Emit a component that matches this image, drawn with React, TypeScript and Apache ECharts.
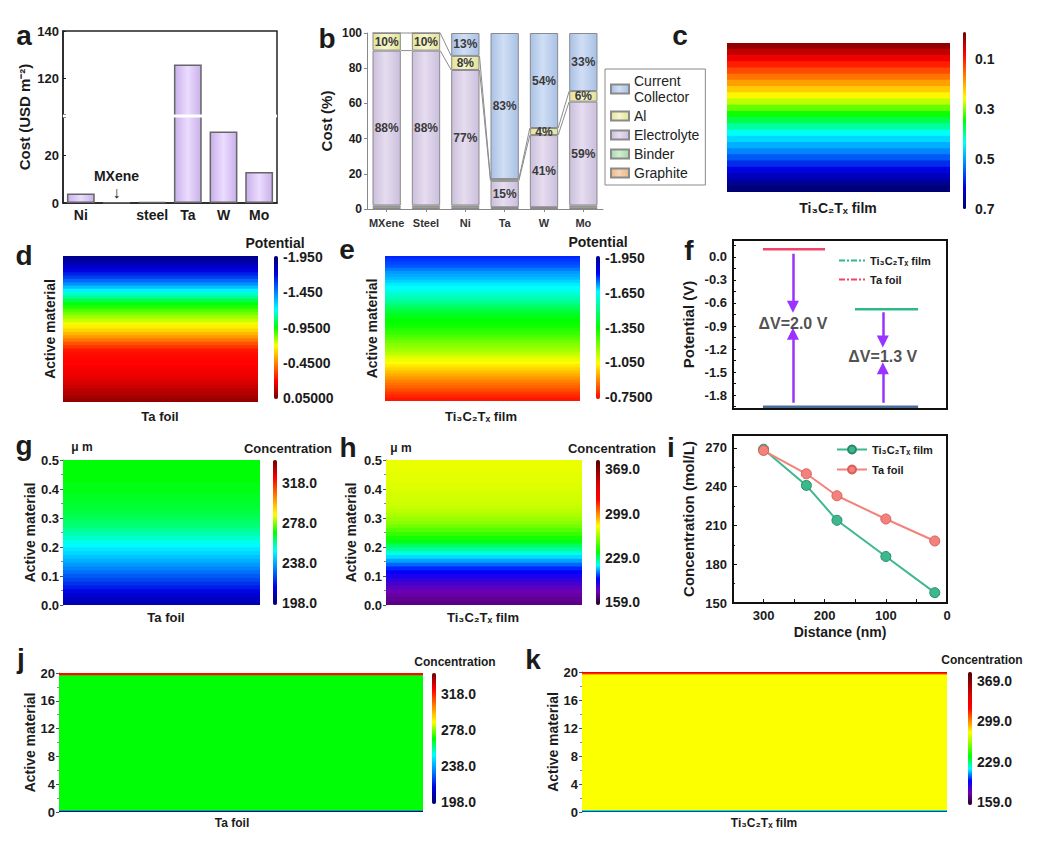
import React, { useEffect, useRef } from 'react';
import * as echarts from 'echarts';

const FONT = '"Liberation Sans", Arial, Helvetica, sans-serif';
const INK = '#1b1b1b';

// ---------------- a : current collector cost ----------------
const aCategories = ['Ni', 'MXene', 'steel', 'Ta', 'W', 'Mo'];
const aCost = [4, 0.3, 0.5, 126, 30, 13];
const aTickLabels = [0, 20, 120, 140];
const aBreak = [36, 105];

// ---------------- b : cost breakdown ----------------
const bCategories = ['MXene', 'Steel', 'Ni', 'Ta', 'W', 'Mo'];
const bGraphite = [1, 1, 1, 0.5, 0.5, 1];
const bBinder = [1, 1, 1, 0.5, 0.5, 1];
const bElectrolyte = [88, 88, 77, 15, 41, 59];
const bAl = [10, 10, 8, 1, 4, 6];
const bCollector = [0, 0, 13, 83, 54, 33];
const bLegendOrder = ['Current Collector', 'Al', 'Electrolyte', 'Binder', 'Graphite'];

// ---------------- c : Ti3C2Tx film map (top -> bottom) ----------------
const cValues = [0.012, 0.04, 0.07, 0.1, 0.13, 0.16, 0.19, 0.22, 0.25, 0.28, 0.31, 0.34,
  0.37, 0.4, 0.43, 0.46, 0.49, 0.52, 0.55, 0.58, 0.61, 0.64, 0.67, 0.695];
const cTicks = [0.1, 0.3, 0.5, 0.7];
const cTickLabels = ['0.1', '0.3', '0.5', '0.7'];

// ---------------- d / e : potential (top -> bottom) ----------------
const dPotential = [-1.9, -1.86, -1.81, -1.76, -1.71, -1.65, -1.59, -1.51, -1.43, -1.33, -1.23, -1.16,
  -1.09, -1.03, -0.97, -0.92, -0.87, -0.83, -0.79, -0.75, -0.71, -0.66, -0.61, -0.55,
  -0.49, -0.42, -0.35, -0.29, -0.23, -0.21, -0.2, -0.19, -0.19, -0.18, -0.17, -0.16,
  -0.15, -0.13, -0.11, -0.09, -0.07, -0.05, -0.03, 0.0];
const dTicks = [-1.95, -1.45, -0.95, -0.45, 0.05];
const dTickLabels = ['-1.950', '-1.450', '-0.9500', '-0.4500', '0.05000'];
const ePotential = [-1.79, -1.78, -1.77, -1.76, -1.74, -1.72, -1.71, -1.7, -1.685, -1.67, -1.655, -1.64,
  -1.61, -1.58, -1.55, -1.52, -1.485, -1.45, -1.42, -1.39, -1.37, -1.35, -1.34, -1.33,
  -1.31, -1.29, -1.265, -1.24, -1.215, -1.19, -1.17, -1.15, -1.12, -1.09, -1.065, -1.04,
  -1.015, -0.99, -0.965, -0.94, -0.915, -0.89, -0.87, -0.85, -0.825, -0.8, -0.78, -0.76];
const eTicks = [-1.95, -1.65, -1.35, -1.05, -0.75];
const eTickLabels = ['-1.950', '-1.650', '-1.350', '-1.050', '-0.7500'];

// ---------------- f : potential levels ----------------
const fLevelNames = ['Ta foil', 'Ti₃C₂Tₓ film', 'base'];
const fLevelPotential = [0.1, -0.68, -1.95];
const fLevelStart = [14, 57, 14];
const fLevelEnd = [43, 86.5, 86.5];
const fArrowX = [28, 70];
const fArrowDown = [[0.04, -0.65], [-0.72, -1.1]];
const fArrowUp = [[-1.9, -1.0], [-1.9, -1.45]];
const fDeltaLabelY = [-0.865, -1.3];
const fDeltaLabels = ['ΔV=2.0 V', 'ΔV=1.3 V'];
const fTicks = [0, -0.3, -0.6, -0.9, -1.2, -1.5, -1.8];
const fMinorTicks = [0.15, 0, -0.15, -0.3, -0.45, -0.6, -0.75, -0.9, -1.05, -1.2, -1.35, -1.5, -1.65, -1.8, -1.95];

// ---------------- g / h : concentration, 0.5 um (top -> bottom) ----------------
const gConc = [268, 268, 268, 268, 268, 268, 267, 267, 267, 266, 266, 265, 265, 264, 263, 262,
  261, 260, 258, 256, 254, 252, 250, 247, 245, 242, 239, 236, 233, 230, 227, 224,
  221, 218, 215, 212, 209, 207];
const gTicks = [198, 238, 278, 318];
const gTickLabels = ['198.0', '238.0', '278.0', '318.0'];
const hConc = [276, 276, 276, 275, 275, 275, 274, 274, 273, 272, 272, 271, 270, 268, 266, 263,
  260, 256, 251, 246, 241, 236, 230, 225, 219, 214, 209, 204, 199, 195, 191, 187,
  183, 179, 176, 173, 171, 169];
const hTicks = [159, 229, 299, 369];
const hTickLabels = ['159.0', '229.0', '299.0', '369.0'];

// ---------------- i : concentration vs distance ----------------
const iDistance = [300, 230, 180, 100, 20];
const iMXene = [269, 241, 214, 186, 158];
const iTaFoil = [268, 250, 233, 215, 198];

// ---------------- j / k : concentration, 20 um ----------------
const jDepth = [0, 0.25, 19.75, 20];
const jConc = [212, 268, 322];
const kDepth = [0, 0.2, 0.35, 19.7, 19.85, 20];
const kConc = [200, 228, 279, 305, 330];

const JET = ['#000070', '#0000e0', '#0080ff', '#00ffff', '#00ff00', '#ffff00', '#ff8000', '#ff0000', '#700000'];
const E_PAL = ['#00008f', '#0000ff', '#00ffff', '#00ff80', '#00ff00', '#80ff00', '#ffff00', '#ff8000', '#ff0000'];
const H_PAL = ['#200020', '#7000b0', '#0000ff', '#00ffff', '#00ff00', '#80ff00', '#ffff00', '#ff8000', '#ff0000', '#e00000', '#a00000', '#500000'];
const C_PAL = JET.slice().reverse();

const bold = (size: number, extra: any = {}) => ({ fontFamily: FONT, fontWeight: 'bold', fontSize: size, color: INK, ...extra });

function gradientBands(vals: number[], lo: number, hi: number) {
  const n = vals.length;
  const step = (hi - lo) / n;
  return vals.map((v, i) => [hi - (i + 1) * step, hi - i * step, v]);
}
function depthBands(depth: number[], conc: number[]) {
  return conc.map((v, i) => [depth[i], depth[i + 1], v]);
}

const bandRender = (params: any, api: any) => {
  const a = api.coord([0, api.value(0)]);
  const b = api.coord([1, api.value(1)]);
  const top = Math.min(a[1], b[1]);
  const h = Math.abs(a[1] - b[1]);
  return {
    type: 'rect',
    shape: { x: a[0], y: top - 0.4, width: b[0] - a[0], height: h + 0.8 },
    style: { fill: api.visual('color') },
  };
};

function buildOption() {
  const grids: any[] = [];
  const xAxes: any[] = [];
  const yAxes: any[] = [];
  const series: any[] = [];
  const visualMaps: any[] = [];
  const graphics: any[] = [];

  const text = (t: string, x: number, y: number, size: number, align = 'center') => {
    graphics.push({
      type: 'text', x, y, silent: true, z: 50,
      style: { text: t, fill: INK, font: `bold ${size}px ${FONT}`, textAlign: align, textVerticalAlign: 'middle' },
    });
  };

  // ---------- a ----------
  const ga = grids.length;
  grids.push({ left: 63, top: 31, width: 214, height: 172, show: true, borderColor: '#222', borderWidth: 1.5 });
  xAxes.push({
    gridIndex: ga, type: 'category', data: aCategories,
    axisLine: { onZero: false, lineStyle: { color: '#222', width: 1.5 } }, axisTick: { show: false },
    axisLabel: { ...bold(14), margin: 5, interval: 0, formatter: (v: string) => (v === 'MXene' ? '' : v) },
  });
  yAxes.push({
    gridIndex: ga, type: 'value', min: 0, max: 140, interval: 20,
    breaks: [{ start: aBreak[0], end: aBreak[1], gap: '1.5%' }],
    breakArea: { show: true, zigzagAmplitude: 0, itemStyle: { color: '#fff', borderColor: '#fff', borderWidth: 0, opacity: 1 } },
    axisLine: { show: true, lineStyle: { color: '#222', width: 1.5 } },
    axisTick: { show: true, inside: true, length: 3 },
    splitLine: { show: false },
    axisLabel: { ...bold(13), margin: 4, formatter: (v: number) => (aTickLabels.indexOf(v) >= 0 ? String(v) : '') },
    name: 'Cost (USD m⁻²)', nameLocation: 'middle', nameGap: 31, nameTextStyle: bold(15),
  });
  series.push({
    type: 'bar', xAxisIndex: ga, yAxisIndex: ga, barWidth: '78%',
    data: aCost.map((v, i) => aCategories[i] === 'MXene'
      ? { value: v, label: { show: true, position: 'top', distance: 1, formatter: '{n|MXene}\n{a|↓}',
          rich: { n: { ...bold(14), lineHeight: 18 }, a: { fontSize: 16, color: INK, lineHeight: 16 } } } }
      : v),
    itemStyle: {
      color: new echarts.graphic.LinearGradient(0, 0, 1, 0, [
        { offset: 0, color: '#c9b0ea' }, { offset: 0.5, color: '#ecdcff' }, { offset: 1, color: '#c9b0ea' }]),
      borderColor: '#666', borderWidth: 1.5,
    },
  });

  // ---------- b ----------
  const gb = grids.length;
  grids.push({ left: 367, top: 33, width: 236, height: 176 });
  xAxes.push({
    gridIndex: gb, type: 'category', data: bCategories,
    axisLine: { onZero: false, lineStyle: { color: '#888' } }, axisTick: { show: true, alignWithLabel: true, length: 3 },
    axisLabel: { ...bold(11, { color: '#333' }), margin: 8, interval: 0 },
  });
  yAxes.push({
    gridIndex: gb, type: 'value', min: 0, max: 100, interval: 20,
    axisLine: { show: true, lineStyle: { color: '#888' } }, axisTick: { show: true, length: 3 },
    splitLine: { show: false }, axisLabel: { ...bold(12), margin: 5 },
    name: 'Cost (%)', nameLocation: 'middle', nameGap: 33, nameTextStyle: bold(15),
  });
  const shade = (c1: string, c2: string) => new echarts.graphic.LinearGradient(0, 0, 1, 0, [
    { offset: 0, color: c1 }, { offset: 0.45, color: c2 }, { offset: 1, color: c1 }]);
  const bStack = [
    { name: 'Graphite', data: bGraphite, c: ['#e8b88a', '#f6d6b6'] },
    { name: 'Binder', data: bBinder, c: ['#a8d8a8', '#d2eed2'] },
    { name: 'Electrolyte', data: bElectrolyte, c: ['#cbbfdc', '#e6ddf0'] },
    { name: 'Al', data: bAl, c: ['#e2e29a', '#f7f7cc'] },
    { name: 'Current Collector', data: bCollector, c: ['#a9c1e6', '#d0def4'] },
  ];
  bStack.forEach((s) => {
    series.push({
      type: 'bar', name: s.name, stack: 'cost', xAxisIndex: gb, yAxisIndex: gb, barWidth: '72%',
      data: s.data,
      itemStyle: { color: shade(s.c[0], s.c[1]), borderColor: '#8a8a8a', borderWidth: 1 },
      label: {
        show: true, position: 'inside', ...bold(12, { color: '#3a3a3a' }),
        formatter: (p: any) => (p.value >= 3 ? `${p.value}%` : ''),
      },
    });
  });
  const elecTop = bElectrolyte.map((v, i) => bGraphite[i] + bBinder[i] + v);
  const alTop = elecTop.map((v, i) => v + bAl[i]);
  const connectors: number[][] = [];
  for (let i = 0; i < bCategories.length - 1; i++) {
    connectors.push([i, elecTop[i], elecTop[i + 1]]);
    connectors.push([i, alTop[i], alTop[i + 1]]);
  }
  series.push({
    type: 'custom', xAxisIndex: gb, yAxisIndex: gb, silent: true, z: 5,
    data: connectors, encode: { x: 0, y: [1, 2] },
    renderItem: (params: any, api: any) => {
      const i = api.value(0);
      const p0 = api.coord([i, api.value(1)]);
      const p1 = api.coord([i + 1, api.value(2)]);
      const half = api.size([1, 0])[0] * 0.36;
      return { type: 'line', shape: { x1: p0[0] + half, y1: p0[1], x2: p1[0] - half, y2: p1[1] },
        style: { stroke: '#8c8c8c', lineWidth: 1 } };
    },
  });

  // ---------- heat map panels ----------
  const addHeat = (cfg: any) => {
    const gi = grids.length;
    grids.push({ left: cfg.rect[0], top: cfg.rect[1], width: cfg.rect[2], height: cfg.rect[3] });
    xAxes.push({ gridIndex: gi, type: 'value', min: 0, max: 1, show: false });
    yAxes.push({
      gridIndex: gi, type: 'value', min: cfg.yMin, max: cfg.yMax,
      ...(cfg.yAxis || { axisLine: { show: false }, axisTick: { show: false }, axisLabel: { show: false } }),
      splitLine: { show: false },
      ...(cfg.yName ? { name: cfg.yName, nameLocation: 'middle', nameGap: cfg.yNameGap, nameTextStyle: bold(14) } : {}),
    });
    const si = series.length;
    series.push({
      type: 'custom', xAxisIndex: gi, yAxisIndex: gi, data: cfg.bands, silent: true, clip: true,
      dimensions: ['from', 'to', 'value'], encode: { y: [0, 1] }, renderItem: bandRender,
    });
    visualMaps.push({
      type: 'continuous', seriesIndex: si, dimension: 2, min: cfg.vMin, max: cfg.vMax,
      inRange: { color: cfg.colors }, orient: 'vertical', inverse: cfg.inverse,
      left: cfg.cb[0], top: cfg.cb[1], itemWidth: cfg.cb[2], itemHeight: cfg.cb[3],
      padding: 0, calculable: false, hoverLink: false, text: null, showLabel: false,
    });
    const ci = grids.length;
    grids.push({ left: cfg.cb[0], top: cfg.cb[1], width: cfg.cb[2], height: cfg.cb[3] });
    xAxes.push({ gridIndex: ci, type: 'value', min: 0, max: 1, show: false });
    yAxes.push({
      gridIndex: ci, type: 'value', min: cfg.vMin, max: cfg.vMax, inverse: cfg.inverse, position: 'right',
      axisLine: { show: false }, splitLine: { show: false },
      axisTick: { show: cfg.cbTicks !== false, length: 3, customValues: cfg.ticks, lineStyle: { color: INK } },
      axisLabel: {
        customValues: cfg.ticks, margin: cfg.cbMargin ?? 5, ...bold(14),
        formatter: (v: number) => {
          const k = cfg.ticks.findIndex((t: number) => Math.abs(t - v) < 1e-6);
          return k >= 0 ? cfg.labels[k] : '';
        },
      },
    });
  };

  // c
  addHeat({ rect: [727, 43, 223, 149], yMin: 0, yMax: 1, bands: gradientBands(cValues, 0, 1),
    vMin: -0.01, vMax: 0.7, colors: C_PAL, inverse: true, cb: [963, 32, 3, 177],
    ticks: cTicks, labels: cTickLabels, cbTicks: false, cbMargin: 9 });
  // d
  addHeat({ rect: [63, 256, 195, 146], yMin: 0, yMax: 1, bands: gradientBands(dPotential, 0, 1),
    vMin: -1.97, vMax: 0.07, colors: JET, inverse: true, cb: [274, 256, 4, 143],
    ticks: dTicks, labels: dTickLabels, yName: 'Active material', yNameGap: 6 });
  // e
  addHeat({ rect: [385, 256, 195, 145], yMin: 0, yMax: 1, bands: gradientBands(ePotential, 0, 1),
    vMin: -1.967, vMax: -0.733, colors: E_PAL, inverse: true, cb: [596, 256, 4, 143],
    ticks: eTicks, labels: eTickLabels, yName: 'Active material', yNameGap: 6 });

  // ---------- f ----------
  const gf = grids.length;
  grids.push({ left: 733, top: 240, width: 214, height: 169, show: true, borderColor: '#111', borderWidth: 2 });
  xAxes.push({ gridIndex: gf, type: 'value', min: 0, max: 100, axisLabel: { show: false }, axisTick: { show: false },
    splitLine: { show: false }, axisLine: { onZero: false, lineStyle: { color: '#111', width: 2 } } });
  yAxes.push({
    gridIndex: gf, type: 'value', min: -1.98, max: 0.22,
    axisLine: { show: true, onZero: false, lineStyle: { color: '#111', width: 2 } }, splitLine: { show: false },
    axisTick: { show: true, inside: true, length: 3, customValues: fMinorTicks },
    axisLabel: { customValues: fTicks, ...bold(13), margin: 6, formatter: (v: number) => v.toFixed(1) },
    name: 'Potential (V)', nameLocation: 'middle', nameGap: 37, nameTextStyle: bold(15),
  });
  const fColors = ['#f0446a', '#2fb88a', '#4c6d96'];
  fLevelNames.forEach((n, k) => {
    series.push({
      type: 'line', name: 'f:' + n, xAxisIndex: gf, yAxisIndex: gf, symbol: 'none',
      data: [[fLevelStart[k], fLevelPotential[k]], [fLevelEnd[k], fLevelPotential[k]]],
      lineStyle: { color: fColors[k], width: 2.5 }, itemStyle: { color: fColors[k] },
    });
  });
  const arrowData: any[] = [];
  fArrowX.forEach((x, k) => {
    arrowData.push({ coords: [[x, fArrowDown[k][0]], [x, fArrowDown[k][1]]] });
    arrowData.push({ coords: [[x, fArrowUp[k][0]], [x, fArrowUp[k][1]]] });
  });
  series.push({
    type: 'lines', coordinateSystem: 'cartesian2d', xAxisIndex: gf, yAxisIndex: gf,
    data: arrowData, symbol: ['none', 'triangle'], symbolSize: [9, 12],
    lineStyle: { color: '#9933ff', width: 2.5, opacity: 1 }, silent: true, z: 4,
  });
  series.push({
    type: 'scatter', xAxisIndex: gf, yAxisIndex: gf, symbolSize: 0, silent: true, z: 6,
    data: fArrowX.map((x, k) => ({ value: [x, fDeltaLabelY[k]], name: fDeltaLabels[k] })),
    label: { show: true, position: 'inside', formatter: '{b}', ...bold(16, { color: '#222' }) },
  });

  // g
  addHeat({ rect: [63, 460, 197, 145], yMin: 0, yMax: 0.5, bands: gradientBands(gConc, 0, 0.5),
    vMin: 196, vMax: 341, colors: JET, inverse: false, cb: [273, 460, 4, 145],
    ticks: gTicks, labels: gTickLabels, yName: 'Active material', yNameGap: 26,
    yAxis: { interval: 0.1, axisLine: { show: true, lineStyle: { color: '#888' } },
      axisTick: { show: true, length: 3, lineStyle: { color: '#555' } },
      minorTick: { show: true, splitNumber: 2, length: 2 },
      axisLabel: { ...bold(13), margin: 4, formatter: (v: number) => v.toFixed(1) } } });
  // h
  addHeat({ rect: [386, 460, 196, 145], yMin: 0, yMax: 0.5, bands: gradientBands(hConc, 0, 0.5),
    vMin: 154, vMax: 384, colors: H_PAL, inverse: false, cb: [596, 460, 4, 145],
    ticks: hTicks, labels: hTickLabels, yName: 'Active material', yNameGap: 28,
    yAxis: { interval: 0.1, axisLine: { show: true, lineStyle: { color: '#888' } },
      axisTick: { show: true, length: 3, lineStyle: { color: '#555' } },
      minorTick: { show: true, splitNumber: 2, length: 2 },
      axisLabel: { ...bold(13), margin: 4, formatter: (v: number) => v.toFixed(1) } } });

  // ---------- i ----------
  const gi2 = grids.length;
  grids.push({ left: 733, top: 435, width: 214, height: 168, show: true, borderColor: '#111', borderWidth: 2 });
  xAxes.push({
    gridIndex: gi2, type: 'value', min: 0, max: 350, interval: 50, inverse: true,
    axisLine: { onZero: false, lineStyle: { color: '#111', width: 2 } }, splitLine: { show: false },
    axisTick: { inside: true, length: 4, lineStyle: { color: '#111' } },
    axisLabel: { ...bold(13), margin: 6, formatter: (v: number) => (v % 100 === 0 ? String(v) : '') },
    name: 'Distance (nm)', nameLocation: 'middle', nameGap: 22, nameTextStyle: bold(14),
  });
  yAxes.push({
    gridIndex: gi2, type: 'value', min: 150, max: 280, interval: 30,
    axisLine: { onZero: false, lineStyle: { color: '#111', width: 2 } }, splitLine: { show: false },
    axisTick: { inside: true, length: 4, lineStyle: { color: '#111' } },
    minorTick: { show: true, splitNumber: 2, length: 2 },
    axisLabel: { ...bold(13), margin: 6, formatter: (v: number) => (v % 30 === 0 ? String(v) : '') },
    name: 'Concentration (mol/L)', nameLocation: 'middle', nameGap: 37, nameTextStyle: bold(15),
  });
  const iSeries = [
    { name: 'i:Ti₃C₂Tₓ film', data: iMXene, c: '#3cb98c', b: '#2a8a68' },
    { name: 'i:Ta foil', data: iTaFoil, c: '#f4827c', b: '#d65f5a' },
  ];
  iSeries.forEach((s) => {
    series.push({
      type: 'line', name: s.name, xAxisIndex: gi2, yAxisIndex: gi2, symbol: 'circle', symbolSize: 10,
      data: iDistance.map((d, k) => [d, s.data[k]]),
      lineStyle: { color: s.c, width: 2 }, itemStyle: { color: s.c, borderColor: s.b, borderWidth: 1 },
    });
  });

  // j
  addHeat({ rect: [59, 673, 364, 139], yMin: 0, yMax: 20, bands: depthBands(jDepth, jConc),
    vMin: 196, vMax: 341, colors: JET, inverse: false, cb: [432, 673, 4, 131],
    ticks: gTicks, labels: gTickLabels, yName: 'Active material', yNameGap: 22,
    yAxis: { interval: 4, axisLine: { show: true, lineStyle: { color: '#888' } },
      axisTick: { show: true, length: 3, lineStyle: { color: '#555' } },
      minorTick: { show: true, splitNumber: 2, length: 2 },
      axisLabel: { ...bold(13), margin: 4 } } });
  // k
  addHeat({ rect: [582, 672, 365, 140], yMin: 0, yMax: 20, bands: depthBands(kDepth, kConc),
    vMin: 154, vMax: 384, colors: H_PAL, inverse: false, cb: [968, 672, 4, 133],
    ticks: hTicks, labels: hTickLabels, yName: 'Active material', yNameGap: 22,
    yAxis: { interval: 4, axisLine: { show: true, lineStyle: { color: '#888' } },
      axisTick: { show: true, length: 3, lineStyle: { color: '#555' } },
      minorTick: { show: true, splitNumber: 2, length: 2 },
      axisLabel: { ...bold(13), margin: 4 } } });

  // ---------- texts ----------
  const letters: [string, number, number][] = [
    ['a', 24, 35], ['b', 327, 38], ['c', 680, 35], ['d', 24, 255], ['e', 347, 249], ['f', 689, 250],
    ['g', 24, 445], ['h', 348, 447], ['i', 671, 447], ['j', 21, 658], ['k', 533, 659],
  ];
  letters.forEach(([t, x, y]) => text(t, x, y, 28));
  text('Ti₃C₂Tₓ film', 838, 208, 14);
  text('Ta foil', 160, 416, 13);
  text('Ti₃C₂Tₓ film', 481, 416, 13);
  text('Ta foil', 166, 617, 13);
  text('Ti₃C₂Tₓ film', 483, 617, 13);
  text('Ta foil', 232, 823, 12);
  text('Ti₃C₂Tₓ film', 764, 823, 12);
  text('Potential', 275, 243, 14);
  text('Potential', 598, 242, 14);
  text('Concentration', 288, 448, 13);
  text('Concentration', 612, 448, 13);
  text('Concentration', 455, 662, 12);
  text('Concentration', 982, 660, 12);
  text('μ m', 82, 447, 12);
  text('μ m', 401, 448, 12);

  return {
    animation: false,
    backgroundColor: '#fff',
    textStyle: { fontFamily: FONT },
    grid: grids,
    xAxis: xAxes,
    yAxis: yAxes,
    visualMap: visualMaps,
    series,
    legend: [
      {
        left: 605, top: 69, orient: 'vertical', icon: 'rect', itemWidth: 18, itemHeight: 9, itemGap: 3,
        padding: [4, 6, 4, 5], borderColor: '#888', borderWidth: 1, selectedMode: false,
        data: bLegendOrder,
        formatter: (n: string) => (n === 'Current Collector' ? 'Current\nCollector' : n),
        textStyle: { fontFamily: FONT, fontSize: 14, color: '#222', lineHeight: 16 },
      },
      {
        left: 833, top: 250, orient: 'vertical', itemWidth: 26, itemHeight: 10, itemGap: 8, selectedMode: false,
        data: ['f:Ti₃C₂Tₓ film', 'f:Ta foil'], formatter: (n: string) => n.slice(2),
        lineStyle: { type: [6, 2, 2, 2], width: 2 }, itemStyle: { opacity: 0 },
        textStyle: bold(11),
      },
      {
        left: 831, top: 439, orient: 'vertical', itemWidth: 30, itemHeight: 10, itemGap: 9, selectedMode: false,
        data: ['i:Ti₃C₂Tₓ film', 'i:Ta foil'], formatter: (n: string) => n.slice(2),
        textStyle: bold(11),
      },
    ],
    graphic: { elements: graphics },
  };
}

export default function App() {
  const ref = useRef<HTMLDivElement>(null);
  useEffect(() => {
    if (!ref.current) return;
    const chart = echarts.init(ref.current, null, { renderer: 'svg' });
    chart.setOption(buildOption() as any);
    return () => chart.dispose();
  }, []);
  return (
    <div
      ref={ref}
      style={{ position: 'absolute', left: 0, top: 0, width: 1038, height: 845, background: '#fff' }}
    />
  );
}
